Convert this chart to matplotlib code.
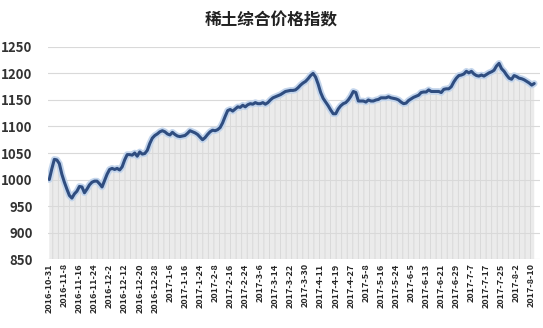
import matplotlib
matplotlib.use("Agg")
import matplotlib.pyplot as plt
import numpy as np

plt.rcParams['font.family'] = ['Noto Sans CJK SC', 'DejaVu Sans']
plt.rcParams['hatch.linewidth'] = 0.6

title = "稀土综合价格指数"

tick_labels = [
    "2016-10-31", "2016-11-8", "2016-11-16", "2016-11-24", "2016-12-2",
    "2016-12-12", "2016-12-20", "2016-12-28", "2017-1-6", "2017-1-16",
    "2017-1-24", "2017-2-8", "2017-2-16", "2017-2-24", "2017-3-6",
    "2017-3-14", "2017-3-22", "2017-3-30", "2017-4-11", "2017-4-19",
    "2017-4-27", "2017-5-8", "2017-5-16", "2017-5-24", "2017-6-5",
    "2017-6-13", "2017-6-21", "2017-6-29", "2017-7-7", "2017-7-17",
    "2017-7-25", "2017-8-2", "2017-8-10",
]
label_step = 6  # trading days between labels

index_values = [
    1000, 1020, 1038, 1037, 1030, 1010, 995, 982, 970, 965,
    973, 978, 987, 986, 975, 982, 990, 995, 997, 997,
    992, 986, 998, 1010, 1019, 1021, 1019, 1021, 1018, 1024,
    1037, 1047, 1047, 1046, 1050, 1044, 1052, 1048, 1049, 1055,
    1068, 1078, 1083, 1086, 1090, 1092, 1090, 1086, 1084, 1089,
    1085, 1082, 1081, 1082, 1083, 1087, 1092, 1090, 1088, 1085,
    1080, 1075, 1079, 1085, 1090, 1093, 1092, 1094, 1098, 1107,
    1119, 1130, 1132, 1129, 1133, 1137, 1136, 1140, 1137, 1141,
    1143, 1142, 1145, 1143, 1143, 1145, 1142, 1145, 1150, 1154,
    1156, 1158, 1160, 1163, 1166, 1167, 1168, 1168, 1169, 1173,
    1178, 1182, 1185, 1190, 1196, 1200, 1193, 1180, 1164, 1153,
    1146, 1139, 1131, 1124, 1124, 1133, 1139, 1143, 1145, 1150,
    1157, 1166, 1164, 1148, 1148, 1148, 1146, 1150, 1148, 1148,
    1150, 1151, 1154, 1154, 1154, 1156, 1154, 1153, 1152, 1150,
    1146, 1143, 1144, 1149, 1152, 1155, 1157, 1159, 1164, 1165,
    1165, 1169, 1166, 1166, 1166, 1166, 1164, 1170, 1171, 1171,
    1175, 1184, 1191, 1196, 1197, 1199, 1204, 1201, 1204, 1199,
    1196, 1195, 1197, 1195, 1198, 1201, 1203, 1206, 1214, 1219,
    1209, 1204, 1197, 1191, 1189, 1196, 1194, 1191, 1190, 1188,
    1185, 1182, 1178, 1181,
]

y_min, y_max, y_step = 850, 1250, 50

fig = plt.figure(figsize=(5.43, 3.28), dpi=100)
ax = fig.add_axes([0.088, 0.21, 0.906, 0.647])

x = np.arange(len(index_values))
ax.fill_between(x, y_min, index_values, facecolor='#ebebeb', edgecolor='#d6d6d6',
                hatch='|||', linewidth=0, zorder=0.3)
ax.plot(x, index_values, color='#c3d5ec', lw=4.8, solid_capstyle='round', zorder=2)
ax.plot(x, index_values, color='#2f4d80', lw=2.2, solid_capstyle='round', zorder=3)

ax.set_ylim(y_min, y_max)
ax.set_yticks(np.arange(y_min, y_max + 1, y_step))
ax.set_xlim(-0.6, 195.2)
ax.set_xticks(np.arange(len(tick_labels)) * label_step)
ax.set_xticklabels(tick_labels, rotation=90, fontsize=6.5, fontweight='bold', color='#262626')
for lbl in ax.get_yticklabels():
    lbl.set_fontsize(9.5)
    lbl.set_fontweight('bold')
    lbl.set_color('#333333')

ax.set_axisbelow(True)
ax.grid(axis='y', color='#d9d9d9', lw=0.8)
ax.tick_params(axis='both', length=0)
ax.tick_params(axis='y', pad=11)
ax.tick_params(axis='x', pad=3)
for s in ax.spines.values():
    s.set_visible(False)

fig.text(0.5, 0.939, title, ha='center', va='center', fontsize=12, fontweight='bold', color='#222222')

fig.savefig('out.png', dpi=100)
